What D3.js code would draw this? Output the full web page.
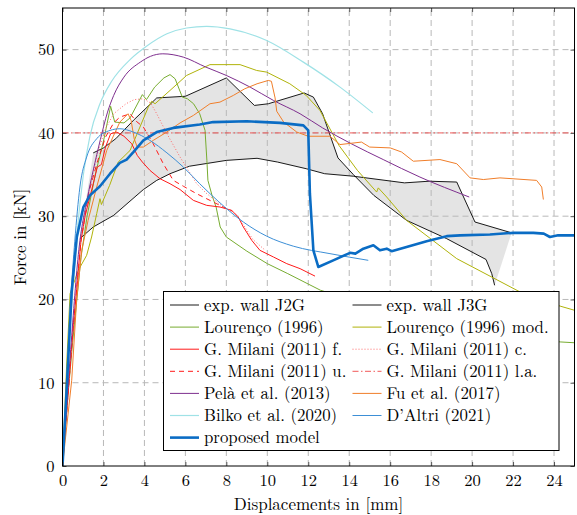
<!DOCTYPE html>
<html>
<head>
<meta charset="utf-8">
<title>Force-displacement comparison</title>
<style>
  body { margin: 0; background: #fff; }
  svg text { font-family: "Latin Modern Roman", "CMU Serif", "Liberation Serif", serif; fill: #000; }
</style>
</head>
<body>
<svg id="chart" width="577" height="515"></svg>
<script src="https://cdn.jsdelivr.net/npm/d3@7/dist/d3.min.js"></script>
<script>
// experimental envelopes
var expJ2G = [[1.5,37.6],[2.0,38.2],[2.6,39.3],[3.5,41.6],[4.6,44.2],[6.0,44.4],[8.0,46.6],[9.37,43.3],[10.05,43.5],[11.8,44.8],[12.25,44.3],[12.7,42.3],[13.45,37.0],[14.2,35.0],[15.2,32.5],[16.8,29.5],[18.76,27.3],[20.68,24.8],[20.96,23.1],[21.1,21.7]];
var expJ3G = [[0.85,27.3],[1.5,28.7],[2.5,30.1],[3.2,31.6],[3.95,33.2],[4.6,34.3],[5.25,35.1],[6.2,36.0],[8.0,36.7],[9.5,36.95],[10.5,36.5],[11.9,35.7],[12.8,35.1],[14.2,34.8],[16.7,34.0],[17.9,34.2],[19.25,34.1],[20.14,29.3],[21.93,28.0]];

// numerical models
var lourenco = [[0,0],[0.25,8],[0.5,15],[0.9,25],[1.2,30],[1.6,35],[2.0,39],[2.35,43.2],[2.55,41.3],[3.0,41.2],[3.3,41.8],[3.9,44.6],[4.1,44.0],[4.5,45.5],[4.95,46.6],[5.25,47.0],[5.5,46.5],[5.85,44.3],[6.1,44.1],[6.4,43.5],[6.7,42.3],[6.96,40.3],[7.05,36.7],[7.1,34.3],[7.3,32.5],[7.5,31.1],[7.7,28.7],[8.0,27.5],[9.0,25.8],[10.0,24.3],[11.0,23.1],[12.6,21.1],[15,19.3],[18,17.5],[21,16.0],[24.3,14.9],[25,14.8]];
var lourencoMod = [[0,0],[0.2,12],[0.37,20.7],[0.77,23.5],[1.18,25.3],[1.42,27.5],[1.67,30.3],[1.83,32.1],[1.9,31.4],[2.3,33.7],[2.72,36.5],[3.3,37.9],[3.78,40.7],[4.19,43.1],[4.35,43.8],[4.52,43.5],[5.25,45.1],[6.06,46.9],[7.2,48.2],[8.67,48.2],[9.48,47.5],[9.97,47.3],[11.1,45.9],[11.9,44.5],[12.57,42.7],[13.5,38.5],[14.4,35.5],[15.34,32.9],[15.42,33.4],[15.83,32.3],[16.8,29.5],[19.25,24.9],[22.34,20.9],[24.3,19.2],[25,18.7]];
var milaniF = [[0,0],[0.5,16],[0.9,27],[1.1,30],[1.5,33.9],[1.7,35.9],[1.9,36.2],[2.1,38.3],[2.35,39.9],[2.65,40.1],[3.0,39.6],[3.38,38.7],[3.65,37.3],[3.9,36.5],[4.27,35.5],[4.76,34.5],[5.25,33.9],[5.74,33.2],[6.39,31.9],[7.04,31.3],[7.69,31.1],[8.26,30.7],[8.58,29.9],[8.83,28.7],[9.24,27.1],[9.64,25.9],[10.3,25.1],[10.95,24.3],[11.6,23.7],[12.33,22.8]];
var milaniC = [[0,0],[0.5,16],[0.9,27],[1.3,33],[1.7,37.5],[2.1,40.5],[2.5,42.3],[3.1,43.5],[3.5,44.0],[3.95,44.1],[4.3,43.6],[4.6,42.3],[5.1,39.9],[5.74,37.1],[6.55,33.9],[7.0,32.8],[7.85,31.1],[8.5,30.2],[9.3,27.2],[9.9,25.9]];
var milaniU = [[0,0],[0.5,16],[0.9,27],[1.3,33],[1.7,36.5],[2.1,39.5],[2.5,41.2],[2.8,41.9],[3.3,42.3],[3.6,41.4],[3.95,40.7],[4.43,38.7],[4.92,36.3],[5.41,34.3],[5.9,33.6],[6.55,32.7],[7.36,31.7],[7.85,31.1],[8.3,30.6]];
var milaniLA = [[0,40],[25,40]];
var pela = [[0,0],[0.4,14],[0.8,26],[1.2,32],[1.5,35.5],[1.85,39.2],[2.2,42.5],[2.5,44.5],[3.0,46.7],[3.8,48.5],[4.3,49.2],[4.9,49.5],[5.9,49.1],[7.0,47.9],[8.0,46.9],[9.16,45.5],[10.3,43.9],[11.6,42.3],[12.7,40.6],[14.1,38.7],[15.66,36.8],[17.45,34.7],[19.86,32.3]];
var fu = [[0,0],[0.45,10.3],[0.69,19.9],[0.94,25.9],[1.25,29.5],[1.67,33.5],[2.16,37.9],[2.8,41.3],[3.2,42.3],[3.35,41.5],[3.5,39.3],[3.65,38.3],[3.95,38.3],[4.43,39.1],[5.09,40.1],[5.74,41.2],[6.39,42.1],[7.2,43.5],[7.69,43.7],[8.34,44.5],[8.9,45.3],[9.5,45.9],[10.05,46.3],[10.2,46.2],[10.38,44.2],[10.46,42.6],[10.8,41.3],[11.44,40.1],[12.0,39.6],[13.06,39.6],[13.55,38.6],[14.6,38.9],[15.0,38.3],[16.0,38.2],[16.56,37.7],[17.13,36.6],[18.43,36.8],[19.25,36.3],[19.9,34.6],[20.55,34.4],[21.36,34.6],[23.15,34.3],[23.4,33.5],[23.48,32.0]];
var bilko = [[0,0],[0.2,9],[0.35,16],[0.53,22],[0.75,29],[1.02,35],[1.34,39.6],[1.83,43.5],[2.4,46.2],[3.3,48.8],[4.1,50.4],[5.1,51.9],[6.06,52.6],[7.04,52.8],[8.18,52.5],[9.97,51.1],[11.76,48.5],[13.55,45.5],[15.15,42.4]];
var daltri = [[0,0],[0.2,10],[0.4,20],[0.6,27],[0.85,33.5],[1.18,37.1],[1.67,39.3],[2.32,40.3],[2.8,40.5],[3.46,40.1],[4.27,39.1],[5.1,37.6],[5.9,35.9],[6.7,33.9],[7.6,31.8],[8.83,29.3],[9.97,27.6],[11.27,26.4],[13.06,25.5],[14.93,24.7]];
var proposed = [[0,0],[0.2,9],[0.45,21],[0.7,27.5],[1.02,31.1],[1.34,32.5],[1.83,33.6],[2.32,35.1],[2.8,36.4],[3.13,36.8],[3.46,37.7],[3.95,39.1],[4.6,40.1],[5.41,40.6],[6.7,41.0],[7.36,41.3],[9.0,41.4],[10.62,41.2],[11.76,40.9],[12.0,40.3],[12.08,32.7],[12.25,25.9],[12.49,23.9],[13.22,24.7],[14.04,25.6],[14.3,25.5],[14.69,26.1],[15.18,26.5],[15.5,25.9],[15.83,26.1],[16.07,25.8],[16.8,26.3],[17.78,27.0],[18.76,27.6],[19.41,27.7],[20.87,27.8],[22.01,28.0],[22.99,28.0],[23.5,27.9],[23.8,27.5],[24.2,27.7],[25,27.7]];

var xTicks = [0,2,4,6,8,10,12,14,16,18,20,22,24];
var yTicks = [0,10,20,30,40,50];

var series = [
  { name: 'exp. wall J2G', data: expJ2G, color: '#000', width: 0.9 },
  { name: 'exp. wall J3G', data: expJ3G, color: '#000', width: 0.9 },
  { name: 'Lourenço (1996)', data: lourenco, color: '#77ac30', width: 1 },
  { name: 'Lourenço (1996) mod.', data: lourencoMod, color: '#b0b30a', width: 1 },
  { name: 'G. Milani (2011) f.', data: milaniF, color: '#ff1a1a', width: 1 },
  { name: 'G. Milani (2011) c.', data: milaniC, color: '#ff6a6a', width: 1, dash: '1,2' },
  { name: 'G. Milani (2011) u.', data: milaniU, color: '#ff1a1a', width: 1, dash: '5,4' },
  { name: 'G. Milani (2011) l.a.', data: milaniLA, color: '#ee3b3b', width: 1, dash: '6,2.5,1.5,2.5', opacity: 0.85 },
  { name: 'Pelà et al. (2013)', data: pela, color: '#7e2f8e', width: 1, smooth: true },
  { name: 'Fu et al. (2017)', data: fu, color: '#f07e2a', width: 1 },
  { name: 'Bilko et al. (2020)', data: bilko, color: '#9fe2e6', width: 1.2, smooth: true },
  { name: 'D\u2019Altri (2021)', data: daltri, color: '#3d8fd6', width: 1, smooth: true },
  { name: 'proposed model', data: proposed, color: '#0a6cc4', width: 2.6 }
];

var svg = d3.select('#chart');
var x = d3.scaleLinear().domain([0, 25]).range([62.5, 574.5]);
var y = d3.scaleLinear().domain([0, 55]).range([466, 8]);

svg.append('clipPath').attr('id', 'plotclip')
  .append('rect')
    .attr('x', x(0)).attr('y', y(55))
    .attr('width', x(25) - x(0)).attr('height', y(0) - y(55));

// shaded band between the two experiments
var band = expJ2G.concat(expJ3G.slice().reverse());
svg.append('path')
  .attr('d', d3.line().x(function(d) { return x(d[0]); }).y(function(d) { return y(d[1]); })(band) + 'Z')
  .attr('fill', '#8c8c8c')
  .attr('fill-opacity', 0.23)
  .attr('stroke', 'none');

// grid
var grid = svg.append('g').attr('stroke', '#b8b8b8').attr('stroke-width', 1).attr('stroke-dasharray', '6,4');
grid.selectAll('.gx').data(xTicks.slice(1)).enter().append('line')
  .attr('x1', function(d) { return x(d); }).attr('x2', function(d) { return x(d); })
  .attr('y1', y(0)).attr('y2', y(55));
grid.selectAll('.gy').data(yTicks.slice(1)).enter().append('line')
  .attr('x1', x(0)).attr('x2', x(25))
  .attr('y1', function(d) { return y(d); }).attr('y2', function(d) { return y(d); });

// curves
var plot = svg.append('g').attr('clip-path', 'url(#plotclip)');
series.forEach(function(s) {
  var line = d3.line()
    .x(function(d) { return x(d[0]); })
    .y(function(d) { return y(d[1]); })
    .curve(s.smooth ? d3.curveMonotoneX : d3.curveLinear);
  plot.append('path')
    .attr('d', line(s.data))
    .attr('fill', 'none')
    .attr('stroke', s.color)
    .attr('stroke-width', s.width)
    .attr('stroke-opacity', s.opacity || 1)
    .attr('stroke-dasharray', s.dash || null)
    .attr('stroke-linejoin', 'round');
});

// axes
svg.append('g').attr('transform', 'translate(0,' + y(0) + ')')
  .call(d3.axisBottom(x).tickValues(xTicks).tickSize(-4).tickPadding(8));
svg.append('g').attr('transform', 'translate(' + x(0) + ',0)')
  .call(d3.axisLeft(y).tickValues(yTicks).tickSize(-4).tickPadding(8));
svg.append('g').attr('transform', 'translate(0,' + y(55) + ')')
  .call(d3.axisTop(x).tickValues(xTicks).tickSize(-4).tickFormat(''));
svg.append('g').attr('transform', 'translate(' + x(25) + ',0)')
  .call(d3.axisRight(y).tickValues(yTicks).tickSize(-4).tickFormat(''));
svg.selectAll('.domain').remove();
svg.selectAll('.tick line').attr('stroke', '#555');
svg.selectAll('.tick text').attr('font-size', 16.5).attr('font-family', null);

svg.append('rect')
  .attr('x', x(0)).attr('y', y(55))
  .attr('width', x(25) - x(0)).attr('height', y(0) - y(55))
  .attr('fill', 'none').attr('stroke', '#000').attr('stroke-width', 1);

svg.append('text')
  .attr('x', (x(0) + x(25)) / 2).attr('y', 510)
  .attr('text-anchor', 'middle').attr('font-size', 17)
  .text('Displacements in [mm]');
svg.append('text')
  .attr('transform', 'translate(26,' + ((y(0) + y(55)) / 2) + ') rotate(-90)')
  .attr('text-anchor', 'middle').attr('font-size', 17)
  .text('Force in [kN]');

// legend
var leg = svg.append('g');
leg.append('rect')
  .attr('x', 163.5).attr('y', 291.5).attr('width', 395.5).attr('height', 159)
  .attr('fill', '#fff').attr('stroke', '#000').attr('stroke-width', 1);
series.forEach(function(s, i) {
  var col = i % 2, row = Math.floor(i / 2);
  var lx = col === 0 ? 170 : 352.5;
  var ly = 305 + row * 22.1;
  leg.append('line')
    .attr('x1', lx).attr('x2', lx + 29).attr('y1', ly).attr('y2', ly)
    .attr('stroke', s.color).attr('stroke-width', s.width)
    .attr('stroke-opacity', s.opacity || 1)
    .attr('stroke-dasharray', s.dash || null);
  leg.append('text')
    .attr('x', lx + 34).attr('y', ly + 5.5)
    .attr('font-size', 16.8)
    .text(s.name);
});
</script>
</body>
</html>
